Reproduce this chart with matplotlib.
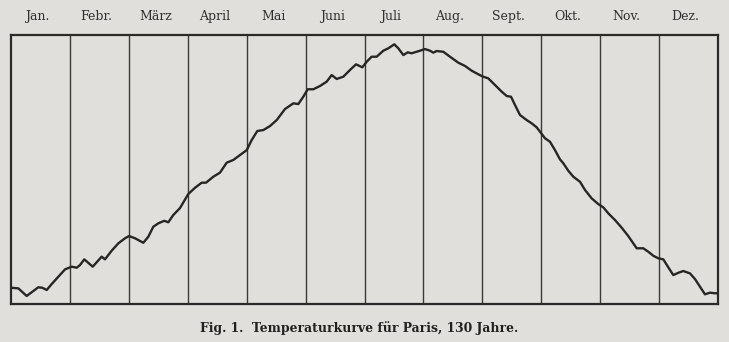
import matplotlib
matplotlib.use('Agg')
import matplotlib.pyplot as plt

# month names shown across the top
months = ['Jan.', 'Febr.', 'März', 'April', 'Mai', 'Juni',
          'Juli', 'Aug.', 'Sept.', 'Okt.', 'Nov.', 'Dez.']

# position in the year (months, 0 = 1 Jan, 12 = 31 Dec)
t_month = [0.000, 0.124, 0.266, 0.378, 0.463, 0.531, 0.606, 0.691, 0.803, 0.917,
           1.030, 1.115, 1.171, 1.244, 1.312, 1.387, 1.472, 1.539, 1.595, 1.709,
           1.821, 1.935, 2.003, 2.105, 2.246, 2.330, 2.415, 2.500, 2.602, 2.670,
           2.755, 2.868, 3.009, 3.123, 3.237, 3.310, 3.434, 3.547, 3.661, 3.773,
           3.887, 4.001, 4.085, 4.181, 4.282, 4.396, 4.510, 4.651, 4.792, 4.876,
           4.961, 5.036, 5.131, 5.245, 5.358, 5.443, 5.528, 5.640, 5.754, 5.856,
           5.963, 6.037, 6.122, 6.207, 6.319, 6.404, 6.506, 6.574, 6.659, 6.733,
           6.801, 6.886, 6.942, 7.027, 7.112, 7.168, 7.225, 7.338, 7.451, 7.592,
           7.706, 7.820, 7.932, 8.016, 8.101, 8.215, 8.329, 8.414, 8.487, 8.554,
           8.639, 8.753, 8.838, 8.923, 8.979, 9.064, 9.148, 9.233, 9.318, 9.374,
           9.459, 9.544, 9.658, 9.743, 9.856, 9.968, 10.053, 10.138, 10.252, 10.365,
           10.477, 10.562, 10.620, 10.732, 10.817, 10.902, 10.987, 11.072, 11.156, 11.241,
           11.326, 11.411, 11.525, 11.610, 11.694, 11.779, 11.864, 11.949, 12.000]

# mean temperature in deg C (no scale printed in the figure, estimated)
temp = [2.59, 2.55, 2.04, 2.37, 2.62, 2.59, 2.44, 2.84, 3.33, 3.82,
        4.00, 3.93, 4.11, 4.49, 4.26, 4.00, 4.38, 4.67, 4.49, 5.07,
        5.56, 5.90, 6.05, 5.90, 5.60, 6.00, 6.67, 6.90, 7.07, 6.97,
        7.46, 7.92, 8.86, 9.28, 9.62, 9.62, 10.02, 10.29, 10.96, 11.14,
        11.47, 11.80, 12.47, 13.08, 13.14, 13.41, 13.81, 14.55, 14.93, 14.88,
        15.37, 15.87, 15.87, 16.09, 16.38, 16.82, 16.56, 16.71, 17.16, 17.54,
        17.34, 17.71, 18.05, 18.05, 18.45, 18.61, 18.88, 18.61, 18.16, 18.34,
        18.28, 18.38, 18.45, 18.56, 18.45, 18.32, 18.43, 18.38, 18.05, 17.65,
        17.43, 17.11, 16.87, 16.71, 16.60, 16.15, 15.71, 15.42, 15.37, 14.82,
        14.15, 13.81, 13.59, 13.32, 13.03, 12.59, 12.36, 11.80, 11.18, 10.92,
        10.42, 10.02, 9.68, 9.13, 8.57, 8.19, 7.97, 7.57, 7.12, 6.61,
        6.05, 5.56, 5.23, 5.23, 5.00, 4.73, 4.56, 4.49, 3.96, 3.44,
        3.59, 3.71, 3.55, 3.17, 2.66, 2.15, 2.26, 2.22, 2.22]

caption = 'Fig. 1.  Temperaturkurve für Paris, 130 Jahre.'

paper = '#e0dfdb'
ink = '#262626'

fig = plt.figure(figsize=(7.29, 3.42), dpi=100, facecolor=paper)
ax = fig.add_axes([0.0151, 0.111, 0.9698, 0.7866], facecolor=paper)

ax.plot(t_month, temp, color=ink, lw=1.7, solid_joinstyle='round', zorder=3)

# month dividers
for m in range(1, len(months)):
    ax.axvline(m, color='#3a3a3a', lw=1.0, zorder=2)

ax.set_xlim(0, 12)
ax.set_ylim(1.5, 19.5)

ax.xaxis.tick_top()
ax.set_xticks([i + 0.45 for i in range(len(months))])
ax.set_xticklabels(months, family='DejaVu Serif', fontsize=9, color='#303030')
ax.tick_params(axis='x', length=0, pad=9)
ax.set_yticks([])

for s in ax.spines.values():
    s.set_linewidth(1.6)
    s.set_color('#2a2a2a')

fig.text(0.492, 0.041, caption, ha='center', va='center',
         family='DejaVu Serif', fontweight='bold', fontsize=8.9, color='#202020')

fig.savefig('out.png', dpi=100, facecolor=paper)
